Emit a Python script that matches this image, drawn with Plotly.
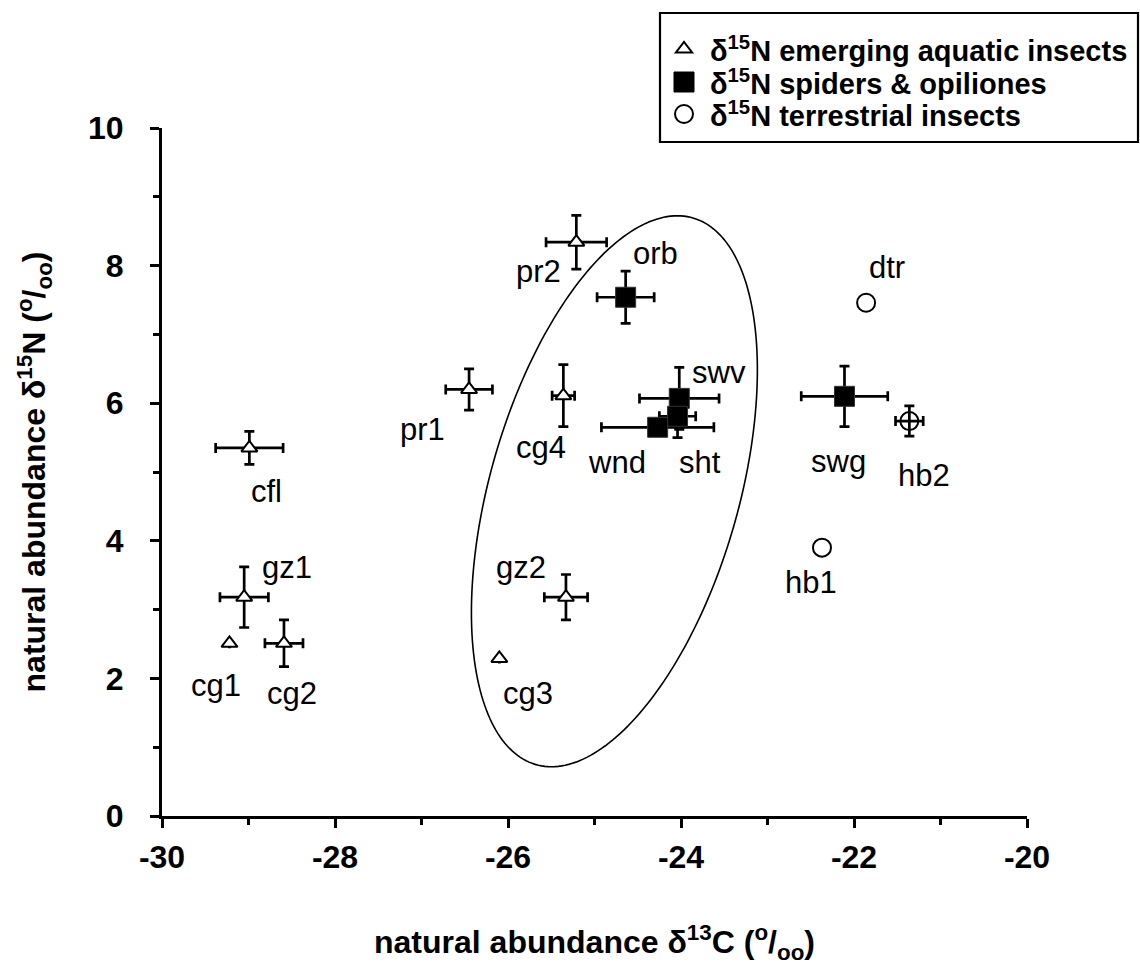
import numpy as np
import plotly.graph_objects as go

# ---- emerging aquatic insects ----
aq_names = ["cg1", "gz1", "cg2", "cfl", "cg3", "gz2", "pr1", "cg4", "pr2"]
aq_d13c = [-29.22, -29.05, -28.59, -28.99, -26.10, -25.33, -26.45, -25.36, -25.21]
aq_d15n = [2.51, 3.18, 2.51, 5.35, 2.29, 3.18, 6.20, 6.11, 8.34]
aq_d13c_err = [None, 0.28, 0.22, 0.39, None, 0.25, 0.27, 0.13, 0.35]
aq_d15n_err = [None, 0.44, 0.34, 0.24, None, 0.33, 0.30, 0.45, 0.39]

# ---- spiders & opiliones ----
sp_names = ["orb", "swv", "sht", "wnd", "swg"]
sp_d13c = [-24.64, -24.02, -24.04, -24.27, -22.11]
sp_d15n = [7.54, 6.07, 5.81, 5.65, 6.10]
sp_d13c_err = [0.33, 0.46, 0.21, 0.65, 0.50]
sp_d15n_err = [0.38, 0.45, 0.31, 0.10, 0.44]

# ---- terrestrial insects ----
te_names = ["dtr", "hb2", "hb1"]
te_d13c = [-21.86, -21.36, -22.37]
te_d15n = [7.46, 5.74, 3.90]
te_d13c_err = [None, 0.16, None]
te_d15n_err = [None, 0.22, None]

# axis ticks
x_ticks = [-30, -28, -26, -24, -22, -20]
x_tick_text = ["-30", "-28", "-26", "-24", "-22", "-20"]
y_ticks = [0, 2, 4, 6, 8, 10]
y_tick_text = ["0", "2", "4", "6", "8", "10"]

legend_labels = [
    "δ<sup>15</sup>N emerging aquatic insects",
    "δ<sup>15</sup>N spiders &amp; opiliones",
    "δ<sup>15</sup>N terrestrial insects",
]

# label placement relative to each point (pixels, +y is up)
label_shift = {
    "cg1": (-13, -42), "gz1": (43, 30), "cg2": (8, -50), "cfl": (17, -44),
    "cg3": (29, -35), "gz2": (-45, 30), "pr1": (-47, -40), "cg4": (-22, -52),
    "pr2": (-38, -29), "orb": (30, 44), "swv": (40, 26), "sht": (22, -46),
    "wnd": (-41, -35), "swg": (-6, -65), "hb2": (15, -54), "dtr": (21, 35),
    "hb1": (-11, -35),
}

# ellipse enclosing the riparian spider group (data units)
ell_cx, ell_cy = -24.77, 4.72
ell_hx, ell_hy = 1.653, 4.004      # half extent along x and y
ell_top_dx = 0.728                 # x offset of the topmost point

FONT = "Liberation Sans, Arial, sans-serif"
FIG_W, FIG_H = 1140, 965
MARG = dict(l=162, r=113, t=128, b=149)
PLOT_W = FIG_W - MARG["l"] - MARG["r"]
PLOT_H = FIG_H - MARG["t"] - MARG["b"]


def paper_x(px):
    return (px - MARG["l"]) / PLOT_W


def paper_y(py):
    return (FIG_H - MARG["b"] - py) / PLOT_H


def err(vals):
    return dict(type="data", array=vals, visible=True, color="black",
                thickness=2.7, width=5)


fig = go.Figure()

fig.add_trace(go.Scatter(
    x=aq_d13c, y=aq_d15n, mode="markers", name="aquatic",
    error_x=err(aq_d13c_err), error_y=err(aq_d15n_err),
    marker=dict(symbol="triangle-up", size=14, color="white",
                line=dict(color="black", width=2)),
    showlegend=False,
))
fig.add_trace(go.Scatter(
    x=sp_d13c, y=sp_d15n, mode="markers", name="spiders",
    error_x=err(sp_d13c_err), error_y=err(sp_d15n_err),
    marker=dict(symbol="square", size=20, color="black",
                line=dict(color="#333333", width=1)),
    showlegend=False,
))
# open rings: filled white where there is no spread, see-through where the
# error cross runs through the ring
te_fill = ["white" if e is None else "rgba(255,255,255,0)" for e in te_d15n_err]
fig.add_trace(go.Scatter(
    x=te_d13c, y=te_d15n, mode="markers", name="terrestrial",
    error_x=err(te_d13c_err), error_y=err(te_d15n_err),
    marker=dict(symbol="circle", size=18, color=te_fill,
                line=dict(color="black", width=2)),
    showlegend=False,
))

# point labels
annotations = []
for names, xs, ys in [(aq_names, aq_d13c, aq_d15n),
                      (sp_names, sp_d13c, sp_d15n),
                      (te_names, te_d13c, te_d15n)]:
    for n, x, y in zip(names, xs, ys):
        dx, dy = label_shift[n]
        annotations.append(dict(
            x=x, y=y, xref="x", yref="y", text=n, showarrow=False,
            xshift=dx, yshift=dy, xanchor="center", yanchor="middle",
            font=dict(family=FONT, size=31, color="black"),
        ))

# ellipse outline
t = np.linspace(0, 2 * np.pi, 241)
ex = ell_cx + ell_top_dx * np.sin(t) + np.sqrt(ell_hx ** 2 - ell_top_dx ** 2) * np.cos(t)
ey = ell_cy + ell_hy * np.sin(t)
ell_path = "M " + " L ".join(f"{a:.4f},{b:.4f}" for a, b in zip(ex, ey)) + " Z"
shapes = [dict(type="path", path=ell_path, xref="x", yref="y",
               line=dict(color="black", width=1.6), fillcolor="rgba(0,0,0,0)")]

# legend box
box_x0, box_x1, box_y0, box_y1 = 660, 1138, 13, 142
shapes.append(dict(type="rect", xref="paper", yref="paper",
                   x0=paper_x(box_x0), x1=paper_x(box_x1),
                   y0=paper_y(box_y1), y1=paper_y(box_y0),
                   line=dict(color="black", width=2.2), fillcolor="white"))
row_y = [49, 82, 114]
sym_x, text_x = 684, 708
glyphs = [
    dict(type="path", path="M-8.08,-3.5 L8.08,-3.5 L0,7 Z", fillcolor="white",
         line=dict(color="black", width=2)),
    dict(type="rect", x0=-10, x1=10, y0=-10, y1=10, fillcolor="black",
         line=dict(color="black", width=1)),
    dict(type="circle", x0=-9, x1=9, y0=-9, y1=9, fillcolor="white",
         line=dict(color="black", width=2)),
]
for g, ry, lab in zip(glyphs, row_y, legend_labels):
    g.update(xref="paper", yref="paper", xsizemode="pixel", ysizemode="pixel",
             xanchor=paper_x(sym_x), yanchor=paper_y(ry))
    shapes.append(g)
    annotations.append(dict(
        x=paper_x(text_x), y=paper_y(ry), xref="paper", yref="paper",
        text=lab, showarrow=False, xanchor="left", yanchor="middle",
        font=dict(family=FONT, size=29, color="black", weight="bold"),
    ))

axis_common = dict(
    showgrid=False, zeroline=False, showline=True, linecolor="black",
    linewidth=3, ticks="outside", ticklen=9, tickwidth=3, tickcolor="black",
    tickfont=dict(family=FONT, size=32, color="black", weight="bold"),
    minor=dict(dtick=1, ticks="outside", ticklen=6, tickwidth=2.5,
               tickcolor="black"),
    automargin=False,
)

fig.update_xaxes(
    range=[-30, -20], tickmode="array", tickvals=x_ticks, ticktext=x_tick_text,
    ticklabelstandoff=2,
    title=dict(text="natural abundance δ<sup>13</sup>C (<sup>o</sup>/<sub>oo</sub>)",
               font=dict(family=FONT, size=32, color="black", weight="bold"),
               standoff=58),
    **axis_common,
)
fig.update_yaxes(
    range=[0, 10], tickmode="array", tickvals=y_ticks, ticktext=y_tick_text,
    ticklabelstandoff=20,
    title=dict(text="natural abundance δ<sup>15</sup>N (<sup>o</sup>/<sub>oo</sub>)",
               font=dict(family=FONT, size=32, color="black", weight="bold"),
               standoff=33),
    **axis_common,
)

fig.update_layout(
    width=FIG_W, height=FIG_H, margin=MARG,
    plot_bgcolor="white", paper_bgcolor="white",
    shapes=shapes, annotations=annotations, showlegend=False,
    font=dict(family=FONT, color="black"),
)

fig.write_html("out.html")
